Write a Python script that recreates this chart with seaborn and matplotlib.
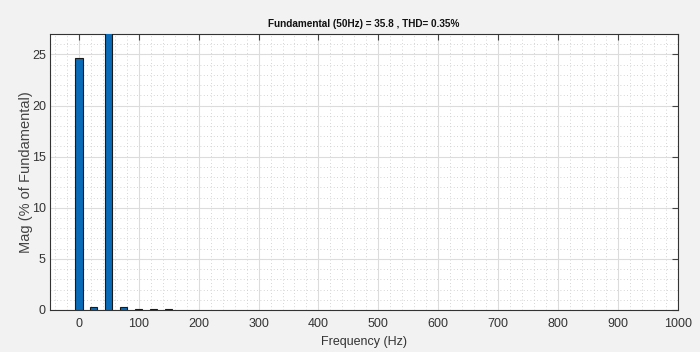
import matplotlib
matplotlib.use("Agg")
import matplotlib.pyplot as plt
import seaborn as sns
from matplotlib.ticker import MultipleLocator

freqs = [0, 25, 50, 75, 100, 125, 150]
mags = [24.7, 0.25, 100.0, 0.25, 0.1, 0.08, 0.08]
title = "Fundamental (50Hz) = 35.8 , THD= 0.35%"

sns.set_theme(style="white")
plt.rcParams['font.family'] = ['Liberation Sans', 'DejaVu Sans']

fig = plt.figure(figsize=(7, 3.52), dpi=100)
fig.patch.set_facecolor('#f2f2f2')
ax = fig.add_axes([50/700, 1 - 310/352, 628/700, 276/352])
ax.set_facecolor('white')

sns.barplot(x=freqs, y=mags, native_scale=True, width=0.5, color='#0a6cb8',
            saturation=1, edgecolor='#1a1a1a', linewidth=0.8, ax=ax, zorder=3)

ax.set_xlim(-48, 1000)
ax.set_ylim(0, 27)
ax.xaxis.set_major_locator(MultipleLocator(100))
ax.xaxis.set_minor_locator(MultipleLocator(20))
ax.yaxis.set_major_locator(MultipleLocator(5))
ax.yaxis.set_minor_locator(MultipleLocator(1))
ax.grid(True, which='major', color='#dcdcdc', linewidth=0.8, linestyle='-', zorder=0)
ax.grid(True, which='minor', color='#c8c8c8', linewidth=0.6, linestyle=(0, (1, 3)), zorder=0)
ax.set_axisbelow(True)
ax.tick_params(which='major', direction='in', length=4, width=0.8, color='#444444',
               top=True, right=True, labelsize=9, labelcolor='#333333')
ax.tick_params(axis='x', which='major', pad=6)
ax.tick_params(axis='y', which='major', pad=3)
ax.tick_params(which='minor', length=0)
for s in ax.spines.values():
    s.set_color('#333333')
    s.set_linewidth(0.8)

ax.set_xlabel("Frequency (Hz)", fontsize=9, color='#333333', labelpad=4)
ax.set_ylabel("Mag (% of Fundamental)", fontsize=10.5, color='#444444', labelpad=-1)
ax.set_title(title, fontsize=7.2, fontweight='bold', color='#111111', pad=5)

fig.savefig("out.png", dpi=100, facecolor=fig.get_facecolor())
